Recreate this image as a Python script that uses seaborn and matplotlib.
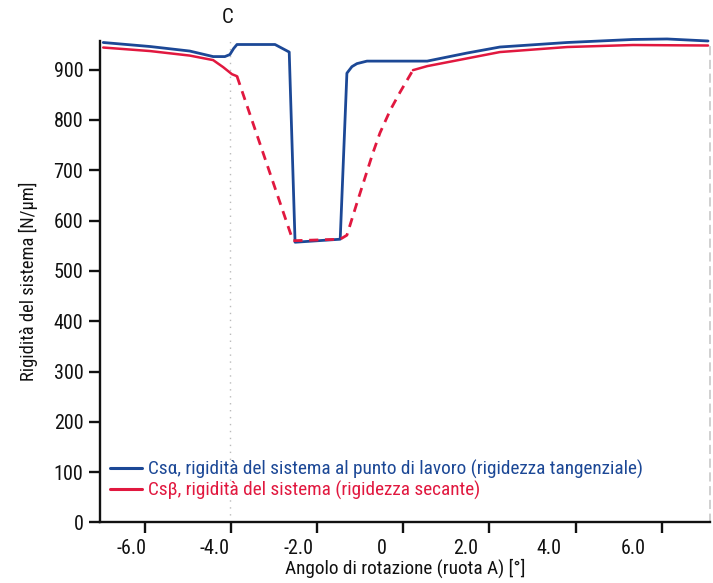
import matplotlib
matplotlib.use("Agg")
import matplotlib.pyplot as plt
from matplotlib.ticker import FixedLocator
from matplotlib import font_manager
import seaborn as sns
import pandas as pd

# Csα: tangential system stiffness at the working point
alpha_angle = [-6.67, -5.55, -4.60, -4.04, -3.76, -3.64, -3.55, -3.47, -2.56, -2.22,
               -2.08, -1.00, -0.84, -0.72, -0.60, -0.36, 1.08, 2.03, 2.82, 4.43, 6.00, 6.82, 7.80]
alpha_value = [954, 946, 937, 926, 926, 930, 942, 950, 950, 935,
               557, 563, 893, 906, 912, 917, 917, 933, 945, 954, 960, 961, 957]

# Csβ: secant system stiffness, solid where measured, dashed across the gap
beta_solid_left_angle = [-6.67, -5.55, -4.60, -4.04, -3.80, -3.59, -3.47]
beta_solid_left_value = [944, 937, 928, 919, 905, 891, 887]
beta_dashed_angle = [-3.47, -2.13, -1.00, -0.84, -0.60, -0.22, -0.05, 0.20, 0.43, 0.74]
beta_dashed_value = [887, 560, 563, 571, 635, 734, 774, 820, 855, 899]
beta_solid_right_angle = [0.74, 1.08, 2.82, 4.43, 6.00, 7.80]
beta_solid_right_value = [899, 907, 935, 945, 949, 948]

x_ticks = [-6, -4, -2, 0, 2, 4, 6]
x_tick_labels = ["-6.0", "-4.0", "-2.0", "0", "2.0", "4.0", "6.0"]
x_tick_marks = [-5.675, -3.615, -1.545, 0.514, 2.57, 4.64, 6.69]
y_ticks = [0, 100, 200, 300, 400, 500, 600, 700, 800, 900]
marker_c_angle = -3.64

BLUE = "#1c4896"
RED = "#e1183f"
INK = "#111111"

sns.set_theme(style="white")

# prefer a narrow sans face when one is available
installed = {f.name for f in font_manager.fontManager.ttflist}
narrow = [n for n in ["Liberation Sans Narrow", "DejaVu Sans Condensed",
                      "Roboto Condensed", "Open Sans Condensed", "Noto Sans Condensed"]
          if n in installed]
plt.rcParams["font.family"] = narrow + ["Roboto", "DejaVu Sans"]
if narrow:
    plt.rcParams["font.stretch"] = "condensed"

fig = plt.figure(figsize=(7.13, 5.83), dpi=100)
ax = fig.add_axes([0.1403, 0.1038, 0.8555, 0.8259])

df_alpha = pd.DataFrame({"angle": alpha_angle, "value": alpha_value})
df_bl = pd.DataFrame({"angle": beta_solid_left_angle, "value": beta_solid_left_value})
df_bd = pd.DataFrame({"angle": beta_dashed_angle, "value": beta_dashed_value})
df_br = pd.DataFrame({"angle": beta_solid_right_angle, "value": beta_solid_right_value})

ax.axvline(marker_c_angle, color="#bbbbbb", lw=1.0, ls=(0, (1, 4)), zorder=1)

sns.lineplot(data=df_alpha, x="angle", y="value", ax=ax, color=BLUE, lw=2.0,
             sort=False, estimator=None, zorder=3, clip_on=False,
             label="Cs\u03b1, rigidità del sistema al punto di lavoro (rigidezza tangenziale)")
sns.lineplot(data=df_bl, x="angle", y="value", ax=ax, color=RED, lw=1.8,
             sort=False, estimator=None, zorder=4, clip_on=False,
             label="Cs\u03b2, rigidità del sistema (rigidezza secante)")
sns.lineplot(data=df_bd, x="angle", y="value", ax=ax, color=RED, lw=2.0,
             sort=False, estimator=None, zorder=4)
ax.lines[-1].set_linestyle((0, (3.3, 2.4)))
sns.lineplot(data=df_br, x="angle", y="value", ax=ax, color=RED, lw=1.8,
             sort=False, estimator=None, zorder=4, clip_on=False)

ax.set_xlim(-6.746, 7.847)
ax.set_ylim(0, 957)

# spines
for side in ["left", "bottom"]:
    ax.spines[side].set_color(INK)
    ax.spines[side].set_linewidth(1.7)
ax.spines["top"].set_visible(False)
ax.spines["right"].set_color("#c4c4c4")
ax.spines["right"].set_linewidth(1.1)
ax.spines["right"].set_linestyle((0, (5, 4)))

fs_tick = 14.5 if narrow else 13
fs_text = 13.9 if narrow else 11.2

ax.set_yticks(y_ticks)
ax.tick_params(axis="y", direction="out", length=8, width=1.7, color=INK,
               labelsize=fs_tick, labelcolor=INK, pad=4, left=True)
ax.xaxis.set_major_locator(FixedLocator(x_ticks))
ax.set_xticklabels(x_tick_labels)
ax.xaxis.set_minor_locator(FixedLocator(x_tick_marks))
ax.tick_params(axis="x", which="major", length=0, labelsize=fs_tick, labelcolor=INK, pad=12)
ax.tick_params(axis="x", which="minor", direction="out", length=8, width=1.7,
               color=INK, bottom=True)

ax.set_xlabel("Angolo di rotazione (ruota A) [°]", fontsize=fs_text, color=INK, labelpad=0)
ax.set_ylabel("Rigidità del sistema [N/µm]", fontsize=fs_text - 0.6, color=INK, labelpad=11)

ax.text(marker_c_angle - 0.05, 1.048, "C", transform=ax.get_xaxis_transform(),
        ha="center", va="center", fontsize=fs_tick + 0.5, color=INK)

leg = ax.legend(loc="lower left", bbox_to_anchor=(-0.006, 0.018), frameon=False,
                fontsize=fs_text, handlelength=1.65, handletextpad=0.3,
                labelspacing=0.1, borderaxespad=0.3)
for txt, line in zip(leg.get_texts(), leg.get_lines()):
    txt.set_color(line.get_color())
    line.set_linewidth(2.2)
    line.set_linestyle("-")

fig.savefig("out.png", dpi=100)
